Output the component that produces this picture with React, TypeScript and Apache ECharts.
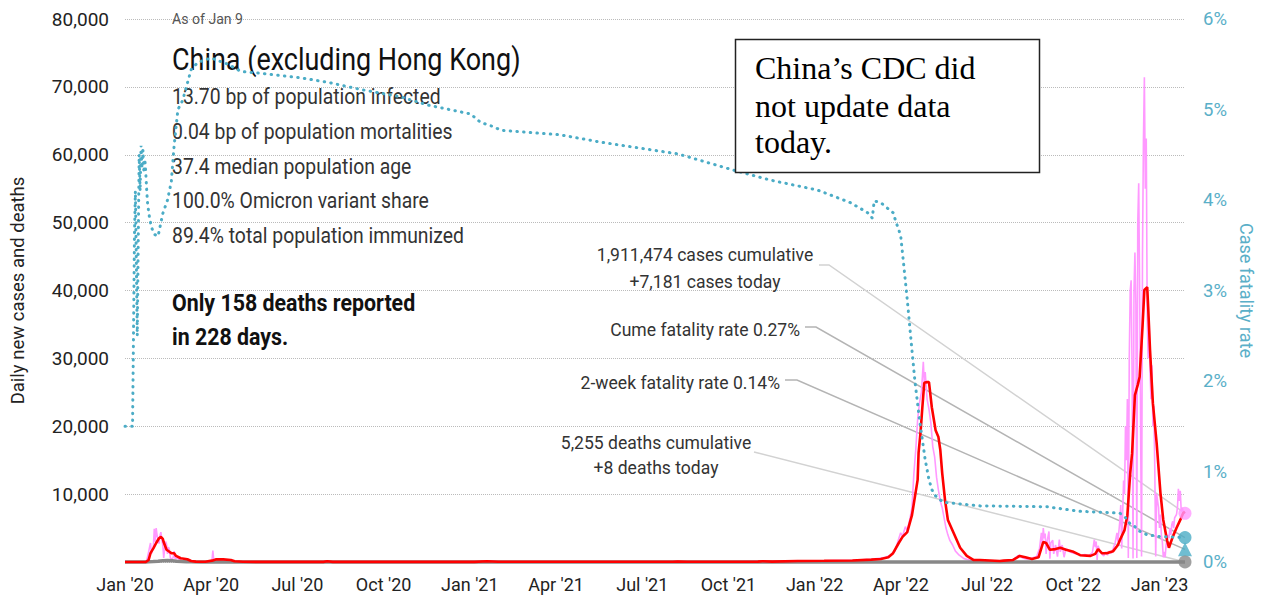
import React, { useEffect, useRef } from 'react';
import * as echarts from 'echarts';

// ---- axis labels ----
const quarterLabels = ["Jan '20", "Apr '20", "Jul '20", "Oct '20", "Jan '21", "Apr '21", "Jul '21", "Oct '21", "Jan '22", "Apr '22", "Jul '22", "Oct '22", "Jan '23"];
const daysPerQuarter = 91.25;
const lastDay = 1122;

// ---- daily new cases (days since Jan 1 2020) ----
const dailyCaseDays = [0, 22, 23, 24, 25, 26, 27, 28, 29, 30, 31, 32, 33, 34, 35, 36, 37, 38, 39, 40, 41, 42, 43, 44, 45, 46, 47, 48, 49, 50, 51, 52, 53, 55, 57, 60, 63, 66, 70, 80,
  90, 92, 93, 94, 96, 100, 104, 108, 112, 116, 125, 150, 180, 210, 213, 216, 280, 330, 376, 383, 390, 400, 450, 520, 580, 585, 590, 640, 675, 680, 700, 712, 730, 750, 770, 790, 800,
  805, 810, 815, 818, 821, 823, 826, 828, 831, 833, 835, 837, 839, 841, 843, 845, 846, 847, 849, 851, 853, 855, 857, 859, 861, 863, 865, 867, 869, 871, 873, 876, 879, 883, 888, 895, 905, 915, 925, 935, 940, 944, 947, 950, 955, 960, 965,
  968, 970, 971, 972, 973, 974, 975, 976, 978, 979, 980, 982, 983, 985, 987, 989, 990, 992, 994, 996, 1000, 1004, 1008, 1012, 1016, 1020, 1024, 1026, 1027, 1028, 1029, 1030, 1032, 1034, 1036, 1038, 1040, 1042, 1044, 1046, 1048, 1050, 1051, 1052,
  1053, 1054, 1055, 1057, 1058, 1059, 1060, 1061, 1062, 1063, 1064, 1065, 1066, 1067, 1068, 1069, 1070, 1071, 1072, 1073, 1074, 1076, 1077, 1078, 1079, 1080, 1081, 1082, 1083, 1084, 1085, 1086, 1087, 1088, 1089, 1090, 1091, 1092,
  1094, 1095, 1096, 1097, 1098, 1099, 1100, 1101, 1102, 1103, 1104, 1105, 1106, 1107, 1108, 1109, 1110, 1111, 1113, 1114, 1115, 1116, 1117, 1118, 1119, 1120, 1121, 1122];
const dailyCases = [0, 0, 300, 800, 1500, 2200, 2800, 1200, 1800, 2200, 4900, 3000, 5000, 3900, 3400, 2700, 3900, 4400, 3300, 2500, 600, 2000, 3000, 2600, 1200, 2200, 1800, 600, 500, 400, 700, 1600, 500, 600, 400, 200, 120, 60, 30, 20,
  40, 100, 1700, 200, 300, 250, 350, 200, 150, 80, 30, 20, 15, 20, 150, 20, 15, 20, 60, 140, 100, 40, 15, 15, 60, 120, 40, 40, 150, 80, 100, 180, 150, 200, 250, 400, 600,
  700, 1000, 1600, 3000, 4300, 3800, 5200, 4600, 6500, 8000, 13000, 16500, 21000, 23500, 25000, 29500, 26500, 28000, 24000, 22500, 20500, 17000, 15500, 12500, 10600, 9000, 8000, 6500, 5000, 4000, 3200, 2500, 1600, 1000, 500, 250, 100, 60, 100, 250, 350, 800, 1000, 600, 400, 600, 800,
  2000, 4300, 2500, 5000, 3500, 4200, 1200, 3000, 4500, 500, 2800, 3200, 1200, 2500, 800, 3300, 1500, 2500, 700, 2000, 1500, 1300, 1200, 1000, 1100, 900, 1400, 3300, 2200, 3000, 300, 2400, 1600, 1200, 900, 1500, 1000, 1600, 1300, 2000, 2800, 4300, 3000, 4500,
  6000, 8400, 2000, 12000, 10000, 20000, 15000, 24000, 600, 30000, 40000, 41500, 28000, 500, 40000, 45600, 38000, 600, 50000, 55800, 40000, 800, 45000, 62000, 71400, 55000, 62400, 36000, 30000, 36000, 28000, 24000, 29000, 20000, 23000, 14000, 800, 10000,
  8000, 5000, 7000, 4000, 3000, 700, 1500, 700, 2500, 3500, 4000, 3500, 5000, 4000, 5500, 6000, 5000, 6500, 7000, 8000, 10800, 9000, 10500, 7500, 8000, 7500, 7200, 7181];

// ---- 7-day average of new cases ----
const avgCaseDays = [0, 22, 25, 27, 30, 33, 36, 38, 40, 41, 44, 47, 49, 52, 54, 59, 66, 70, 75, 85, 92, 96, 104, 112, 116, 125, 160, 210, 214, 220, 370, 383, 395, 580, 585, 595, 670, 675, 685, 712, 740, 770, 790, 800, 808,
  813, 819, 823, 828, 833, 839, 840, 842, 844, 846, 849, 851, 852, 854, 858, 861, 863, 865, 868, 871, 877, 884, 891, 898, 905, 926, 930, 940, 947, 953, 960, 967, 972, 975, 979, 985, 990, 996, 1004, 1011, 1022, 1027, 1030, 1034, 1039, 1046, 1051,
  1053, 1058, 1061, 1064, 1066, 1069, 1072, 1074, 1077, 1079, 1082, 1083, 1085, 1088, 1092, 1096, 1099, 1103, 1105, 1109, 1113, 1117, 1120, 1122];
const avgCases = [0, 0, 300, 1300, 2000, 2800, 3500, 3700, 3400, 2900, 1800, 1500, 1300, 1300, 900, 550, 400, 150, 50, 40, 200, 380, 380, 300, 100, 30, 15, 20, 120, 20, 20, 120, 40, 30, 80, 30, 50, 120, 60, 150, 180, 230, 350, 450, 700,
  1300, 2800, 3700, 4400, 6900, 12100, 16100, 19000, 22800, 26400, 26500, 26500, 25300, 22800, 19400, 18400, 16500, 13100, 9100, 6200, 4300, 2100, 900, 300, 300, 150, 200, 300, 900, 700, 450, 700, 2950, 2800, 1800, 1900, 2100, 1800, 1500, 1000, 900, 1200, 1900, 1300, 1300, 1600, 2500,
  3200, 4700, 6900, 13100, 16000, 24600, 26100, 27300, 34600, 40100, 40500, 37600, 31200, 23400, 17500, 10200, 6200, 3200, 2100, 3700, 5000, 6200, 7200, 7400];

// ---- daily deaths ----
const deathDays = [0, 22, 25, 30, 35, 40, 45, 50, 55, 60, 65, 70, 80, 100, 120, 1060, 1080, 1100, 1122];
const dailyDeaths = [0, 0, 30, 60, 120, 200, 220, 180, 120, 70, 40, 20, 8, 5, 2, 0, 5, 10, 8];

// ---- case fatality rate (%) ----
const cfrDays = [0, 7, 8, 9, 10, 11, 12, 13, 14, 15, 16, 17, 18, 19, 20, 21, 22, 23, 24, 26, 28, 31, 35, 40, 45, 49, 52, 56, 61, 70, 77, 91, 109, 123, 144, 186, 215, 250, 292, 320, 334, 366, 376, 390, 398, 461, 503, 585, 644, 683, 733, 768, 786, 791, 793,
  800, 807, 813, 816, 821, 824, 828, 832, 836, 841, 844, 847, 851, 854, 858, 866, 905, 976, 1011, 1053, 1059, 1064, 1069, 1074, 1082, 1096, 1122];
const cfrPct = [1.5, 1.5, 1.5, 2.5, 3.6, 4.1, 3.3, 2.5, 3.5, 4.5, 4.1, 4.6, 4.35, 4.55, 4.3, 4.45, 4.3, 4.1, 3.95, 3.8, 3.7, 3.62, 3.6, 3.85, 4.0, 4.2, 4.6, 5.0, 5.1, 5.44, 5.52, 5.57, 5.5, 5.42, 5.4, 5.35, 5.3, 5.22, 5.14, 5.05, 5.02, 4.95, 4.86, 4.81, 4.77, 4.72, 4.64, 4.51, 4.33, 4.22, 4.11, 3.97, 3.86, 3.8, 3.99,
  3.97, 3.91, 3.86, 3.76, 3.61, 3.31, 2.9, 2.45, 2.01, 1.57, 1.35, 1.13, 0.91, 0.8, 0.73, 0.66, 0.62, 0.61, 0.56, 0.54, 0.49, 0.42, 0.39, 0.34, 0.3, 0.28, 0.27];

// ---- latest values ----
const todayCases = 7181;
const cumeFatality = 0.27;
const twoWeekFatality = 0.14;
const todayDeaths = 8;

// ---- texts ----
const asOf = 'As of Jan 9';
const titleText = 'China (excluding Hong Kong)';
const statLines = ['13.70 bp of population infected', '0.04 bp of population mortalities', '37.4 median population age', '100.0% Omicron variant share', '89.4% total population immunized'];
const noteLines = ['Only 158 deaths reported', 'in 228 days.'];
const casesLabel = ['1,911,474 cases cumulative', '+7,181 cases today'];
const cumeLabel = 'Cume fatality rate 0.27%';
const twoWeekLabel = '2-week fatality rate 0.14%';
const deathsLabel = ['5,255 deaths cumulative', '+8 deaths today'];
const boxLines = ['China\u2019s CDC did', 'not update data', 'today.'];

const SANS = "Roboto, 'Noto Sans', sans-serif";
const SERIF = "'Liberation Serif', 'Times New Roman', 'DejaVu Serif', serif";
const TEAL = '#4bacc6';
const TEAL_TEXT = '#5aafc8';
const PINK = '#ff99ff';

if (typeof document !== 'undefined') {
  document.body.style.margin = '0';
  document.body.style.overflow = 'hidden';
}

const zip = (xs: number[], ys: number[]) => xs.map((x, i) => [x, ys[i]]);

function txt(text: string, x: number, y: number, size: number, opts: any = {}) {
  return {
    type: 'text',
    x,
    y,
    scaleX: opts.sx ?? 1,
    z: opts.z ?? 1,
    style: {
      text,
      fill: opts.color ?? '#333',
      fontSize: size,
      fontFamily: opts.family ?? SANS,
      fontWeight: opts.weight ?? 'normal',
      textAlign: opts.align ?? 'left',
      align: opts.align ?? 'left',
      textVerticalAlign: 'middle',
      verticalAlign: 'middle',
    },
  };
}

export default function App() {
  const ref = useRef<HTMLDivElement>(null);
  useEffect(() => {
    document.body.style.margin = '0';
    const chart = echarts.init(ref.current!, null, { renderer: 'svg' });
    const option: any = {
      animation: false,
      backgroundColor: '#ffffff',
      grid: { left: 124, right: 80, top: 19, bottom: 41 },
      xAxis: {
        type: 'value',
        min: 0,
        max: lastDay,
        interval: daysPerQuarter,
        axisLine: { show: false },
        axisTick: { show: false },
        splitLine: { show: false },
        axisLabel: {
          margin: 13,
          fontSize: 18,
          color: '#222',
          fontFamily: SANS,
          formatter: (v: number) => {
            const q = v / daysPerQuarter;
            const r = Math.round(q);
            return Math.abs(q - r) < 1e-6 && r < quarterLabels.length ? quarterLabels[r] : '';
          },
        },
      },
      yAxis: [
        {
          type: 'value',
          position: 'left',
          min: 0,
          max: 80000,
          interval: 10000,
          axisLine: { show: false },
          axisTick: { show: false },
          splitLine: { show: true, lineStyle: { color: '#bbbbbb', type: 'dotted', width: 1 } },
          axisLabel: {
            margin: 16,
            fontSize: 19,
            color: '#222',
            fontFamily: SANS,
            formatter: (v: number) => (v === 0 ? '' : v.toLocaleString('en-US')),
          },
          name: 'Daily new cases and deaths',
          nameLocation: 'middle',
          nameGap: 98,
          nameTextStyle: { fontSize: 18.5, color: '#222', fontFamily: SANS },
        },
        {
          type: 'value',
          position: 'right',
          min: 0,
          max: 6,
          interval: 1,
          axisLine: { show: false },
          axisTick: { show: false },
          splitLine: { show: false },
          axisLabel: { margin: 18, fontSize: 18.5, color: TEAL_TEXT, fontFamily: SANS, formatter: '{value}%' },
          name: 'Case fatality rate',
          nameLocation: 'middle',
          nameRotate: -90,
          nameGap: 52,
          nameTextStyle: { fontSize: 18, color: TEAL_TEXT, fontFamily: SANS },
        },
      ],
      series: [
        {
          type: 'line', name: 'Daily cases', data: zip(dailyCaseDays, dailyCases), showSymbol: false, clip: false, z: 2,
          lineStyle: { color: PINK, width: 1.6 },
        },
        {
          type: 'line', name: 'Daily deaths', data: zip(deathDays, dailyDeaths), showSymbol: false, clip: false, z: 3,
          lineStyle: { color: '#888888', width: 3.5 },
        },
        {
          type: 'line', name: '7-day avg cases', data: zip(avgCaseDays, avgCases), showSymbol: false, clip: false, z: 4,
          lineStyle: { color: '#ff0000', width: 2.6 },
        },
        {
          type: 'line', name: 'Case fatality rate', yAxisIndex: 1, data: zip(cfrDays, cfrPct), showSymbol: false, clip: false, z: 5,
          lineStyle: { color: TEAL, width: 3, type: [0.5, 6.2], cap: 'round' },
        },
        { type: 'scatter', data: [[lastDay, todayCases]], symbol: 'circle', symbolSize: 13, itemStyle: { color: PINK }, clip: false, z: 6 },
        { type: 'scatter', yAxisIndex: 1, data: [[lastDay, cumeFatality]], symbol: 'circle', symbolSize: 13, itemStyle: { color: TEAL }, clip: false, z: 6 },
        { type: 'scatter', yAxisIndex: 1, data: [[lastDay, twoWeekFatality]], symbol: 'triangle', symbolSize: 14, itemStyle: { color: TEAL }, clip: false, z: 6 },
        { type: 'scatter', data: [[lastDay, todayDeaths]], symbol: 'circle', symbolSize: 13, itemStyle: { color: '#888888' }, clip: false, z: 6 },
      ],
    };
    chart.setOption(option);

    const pCases = chart.convertToPixel({ xAxisIndex: 0, yAxisIndex: 0 }, [lastDay, todayCases]) as number[];
    const pCume = chart.convertToPixel({ xAxisIndex: 0, yAxisIndex: 1 }, [lastDay, cumeFatality]) as number[];
    const pTwo = chart.convertToPixel({ xAxisIndex: 0, yAxisIndex: 1 }, [lastDay, twoWeekFatality]) as number[];
    const pDeaths = chart.convertToPixel({ xAxisIndex: 0, yAxisIndex: 0 }, [lastDay, todayDeaths]) as number[];

    const leader = (pts: number[][], color: string) => ({
      type: 'polyline', z: 1, silent: true,
      shape: { points: pts },
      style: { stroke: color, lineWidth: 1.5, fill: 'none' },
    });

    const graphic: any[] = [
      leader([[819, 265], [829, 265], pCases], '#d2d2d2'),
      leader([[805, 327], [816, 327], pCume], '#b4b4b4'),
      leader([[785, 380], [797, 380], pTwo], '#b4b4b4'),
      leader([[754, 452], pDeaths], '#d2d2d2'),
      txt(asOf, 172, 19, 15, { color: '#555', sx: 0.94 }),
      txt(titleText, 172, 59, 31, { color: '#111', sx: 0.87 }),
      ...statLines.map((s, i) => txt(s, 172, 97 + i * 34.6, 22, { color: '#333', sx: 0.88 })),
      ...noteLines.map((s, i) => txt(s, 172, 303 + i * 34, 24, { color: '#111', weight: 'bold', sx: 0.89 })),
      txt(casesLabel[0], 705, 254, 18.5, { align: 'center', sx: 0.95 }),
      txt(casesLabel[1], 705, 281, 18.5, { align: 'center', sx: 0.95 }),
      txt(cumeLabel, 800, 329, 18.5, { align: 'right', sx: 0.95 }),
      txt(twoWeekLabel, 780, 382, 18.5, { align: 'right', sx: 0.95 }),
      txt(deathsLabel[0], 656, 442, 18.5, { align: 'center', sx: 0.95 }),
      txt(deathsLabel[1], 656, 467, 18.5, { align: 'center', sx: 0.95 }),
      {
        type: 'rect', z: 100,
        shape: { x: 735.5, y: 39.5, width: 304, height: 133 },
        style: { fill: '#ffffff', stroke: '#222222', lineWidth: 1.5 },
      },
      ...boxLines.map((s, i) => txt(s, 755, [68, 106, 142][i], 32, { family: SERIF, color: '#000', z: 101 })),
    ];
    chart.setOption({ graphic });
    return () => chart.dispose();
  }, []);
  return <div ref={ref} style={{ width: 1265, height: 603 }} />;
}
